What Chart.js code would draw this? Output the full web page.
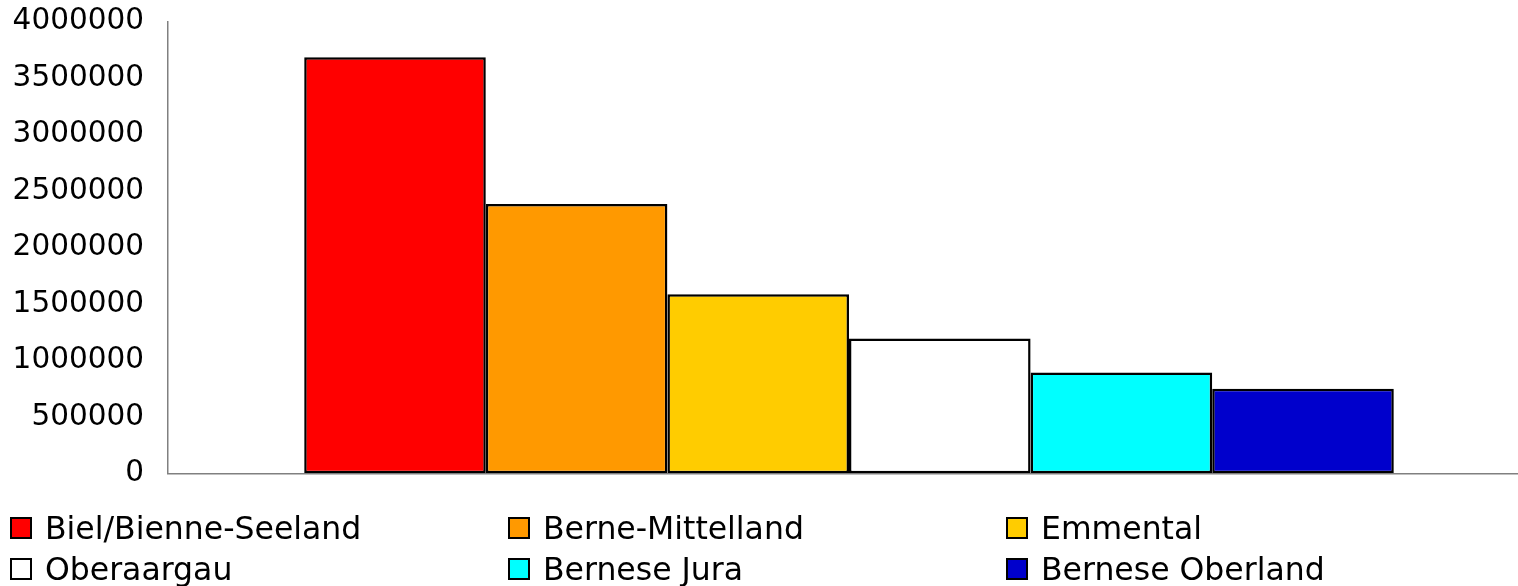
<!DOCTYPE html>
<html>
<head>
<meta charset="utf-8">
<script src="https://cdn.jsdelivr.net/npm/chart.js@4.4.0/dist/chart.umd.min.js"></script>
<style>
  html, body { margin: 0; padding: 0; background: #fff; overflow: hidden; width: 1518px; height: 586px; }
  #wrap { position: absolute; left: 0; top: -20px; width: 1530px; height: 535px; }
  #legend { position: absolute; left: 10px; top: 507px; display: grid; grid-template-columns: 498px 498px 498px; grid-auto-rows: 41px; font-family: "DejaVu Sans", sans-serif; font-size: 31.5px; color: #000; }
  .item { display: flex; align-items: center; white-space: nowrap; }
  .box { width: 18px; height: 18px; border: 2px solid #000; margin-right: 13px; flex: none; }
</style>
</head>
<body>
<div id="wrap"><canvas id="c"></canvas></div>
<div id="legend"></div>
<script>
const categories = [""];
const seriesNames = ["Biel/Bienne-Seeland", "Berne-Mittelland", "Emmental", "Oberaargau", "Bernese Jura", "Bernese Oberland"];
const seriesValues = [3685000, 2385000, 1585000, 1193000, 892000, 748000];
const seriesColors = ["#FF0000", "#FF9900", "#FFCC00", "#FFFFFF", "#00FFFF", "#0000CC"];
const yTicks = [0, 500000, 1000000, 1500000, 2000000, 2500000, 3000000, 3500000, 4000000];

const datasets = seriesNames.map((name, i) => ({
  label: name,
  data: [seriesValues[i]],
  backgroundColor: seriesColors[i],
  borderColor: "#000000",
  borderWidth: 2.5,
  borderSkipped: false,
  categoryPercentage: 0.8,
  barPercentage: 1.0
}));

new Chart(document.getElementById("c"), {
  type: "bar",
  data: { labels: categories, datasets },
  options: {
    responsive: true,
    maintainAspectRatio: false,
    animation: false,
    layout: { padding: 0 },
    plugins: { legend: { display: false }, tooltip: { enabled: false } },
    scales: {
      x: {
        grid: { display: false, drawTicks: false },
        border: { display: true, color: "#808080", width: 1.5 },
        ticks: { display: false }
      },
      y: {
        min: 0, max: 4000000,
        afterBuildTicks: (axis) => { axis.ticks = yTicks.map(v => ({ value: v })); },
        afterFit: (axis) => { axis.width = 168; },
        grid: { display: false, drawTicks: false },
        border: { display: true, color: "#808080", width: 1.5 },
        ticks: { padding: 24, color: "#000", font: { family: "DejaVu Sans", size: 29.5 }, callback: (v) => String(v) }
      }
    }
  }
});

const leg = document.getElementById("legend");
seriesNames.forEach((name, i) => {
  const d = document.createElement("div");
  d.className = "item";
  const b = document.createElement("span");
  b.className = "box";
  b.style.background = seriesColors[i];
  const t = document.createElement("span");
  t.textContent = name;
  d.appendChild(b); d.appendChild(t);
  leg.appendChild(d);
});
</script>
</body>
</html>
